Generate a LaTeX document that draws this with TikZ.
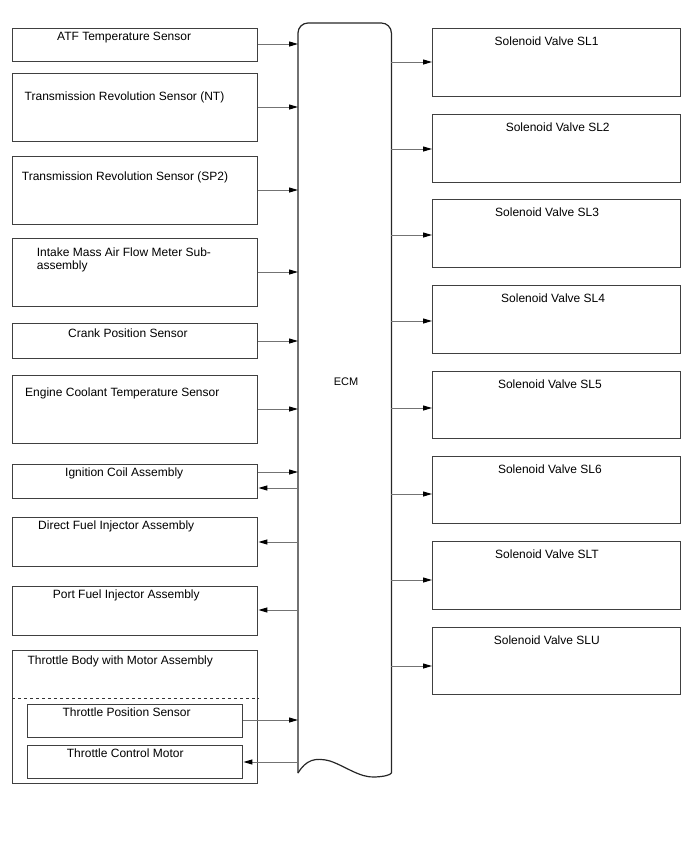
\documentclass[tikz,border=0pt]{standalone}
\usepackage{fontspec}
\setmainfont{Liberation Sans}
\usetikzlibrary{arrows.meta}
\begin{document}
\begin{tikzpicture}[x=1pt,y=-1pt,
  box/.style={draw=black!75,line width=1.4pt,inner sep=0,anchor=north west},
  lbl/.style={anchor=base west,inner sep=0,font=\fontsize{12}{13.5}\selectfont,align=left},
  rlbl/.style={anchor=base west,inner sep=0,font=\fontsize{12}{14}\selectfont},
  conn/.style={draw=black!55,line width=1pt,-{Triangle[length=9pt,width=5pt,color=black]}}]
\useasboundingbox (0,0) rectangle (688,852);
% left boxes
\node[box,minimum width=245,minimum height=33] (atf) at (12,28) {};
\node[box,minimum width=245,minimum height=68] (nt) at (12,73) {};
\node[box,minimum width=245,minimum height=68] (sp2) at (12,156) {};
\node[box,minimum width=245,minimum height=68] (maf) at (12,238) {};
\node[box,minimum width=245,minimum height=35] (crank) at (12,323) {};
\node[box,minimum width=245,minimum height=68] (ect) at (12,375) {};
\node[box,minimum width=245,minimum height=34] (ign) at (12,464) {};
\node[box,minimum width=245,minimum height=49] (dfi) at (12,517) {};
\node[box,minimum width=245,minimum height=49] (pfi) at (12,586) {};
\node[box,minimum width=245,minimum height=133] (tb) at (12,650) {};
\node[box,minimum width=215,minimum height=33] (tps) at (27,704) {};
\node[box,minimum width=215,minimum height=33] (tcm) at (27,745) {};
\draw[black!80,line width=1pt,dashed] (tb.west |- 0,698) coordinate (d1) -- (tb.east |- 0,698) coordinate (d2);
% labels left
\node[lbl] (tatf) at (57,40) {ATF Temperature Sensor};
\node[lbl] (tnt) at (24.5,100.7) {Transmission Revolution Sensor (NT)};
\node[lbl] (tsp2) at (21.7,180) {Transmission Revolution Sensor (SP2)};
\node[lbl] (tmaf) at (36.7,269.5) {Intake Mass Air Flow Meter Sub-\\assembly};
\node[lbl] (tcrank) at (68,337) {Crank Position Sensor};
\node[lbl] (tect) at (25,396) {Engine Coolant Temperature Sensor};
\node[lbl] (tign) at (65,476.5) {Ignition Coil Assembly};
\node[lbl] (tdfi) at (38,529) {Direct Fuel Injector Assembly};
\node[lbl] (tpfi) at (52.7,598.5) {Port Fuel Injector Assembly};
\node[lbl] (ttb) at (27.3,664) {Throttle Body with Motor Assembly};
\node[lbl] (ttps) at (62.3,716) {Throttle Position Sensor};
\node[lbl] (ttcm) at (66.7,757) {Throttle Control Motor};
% ECM
\node[inner sep=0,minimum width=93,minimum height=750,anchor=north west] (ecm) at (298,23) {};
\draw[black!85,line width=1.2pt,rounded corners=10pt]
  (ecm.west |- 0,773) -- (ecm.north west) -- (ecm.north east) -- (ecm.east |- 0,773);
\draw[black!85,line width=1.2pt]
  (ecm.west |- 0,773) .. controls (306,760) and (315,757) .. (330,761)
  .. controls (345,766) and (360,778) .. (375,777)
  .. controls (385,776.5) and (390,775) .. (ecm.east |- 0,773);
\node[anchor=base,inner sep=0,font=\fontsize{11}{12}\selectfont] (tecm) at (346,385.7) {ECM};
% right boxes
\node[box,minimum width=248,minimum height=68] (sl1) at (432,28) {};
\node[box,minimum width=248,minimum height=68] (sl2) at (432,114) {};
\node[box,minimum width=248,minimum height=68] (sl3) at (432,199) {};
\node[box,minimum width=248,minimum height=68] (sl4) at (432,285) {};
\node[box,minimum width=248,minimum height=67] (sl5) at (432,371) {};
\node[box,minimum width=248,minimum height=67] (sl6) at (432,456) {};
\node[box,minimum width=248,minimum height=68] (slt) at (432,541) {};
\node[box,minimum width=248,minimum height=67] (slu) at (432,627) {};
\node[rlbl] (tsl1) at (494.5,45.4) {Solenoid Valve SL1};
\node[rlbl] (tsl2) at (505.6,131.4) {Solenoid Valve SL2};
\node[rlbl] (tsl3) at (495,216.4) {Solenoid Valve SL3};
\node[rlbl] (tsl4) at (501,302.4) {Solenoid Valve SL4};
\node[rlbl] (tsl5) at (497.8,388.4) {Solenoid Valve SL5};
\node[rlbl] (tsl6) at (497.8,473.4) {Solenoid Valve SL6};
\node[rlbl] (tslt) at (495,558.4) {Solenoid Valve SLT};
\node[rlbl] (tslu) at (493.7,644.4) {Solenoid Valve SLU};
% connectors in
\draw[conn] (atf.east |- 0,44) -- (ecm.west |- 0,44);
\draw[conn] (nt.east |- 0,107) -- (ecm.west |- 0,107);
\draw[conn] (sp2.east |- 0,190) -- (ecm.west |- 0,190);
\draw[conn] (maf.east |- 0,272) -- (ecm.west |- 0,272);
\draw[conn] (crank.east |- 0,341) -- (ecm.west |- 0,341);
\draw[conn] (ect.east |- 0,409) -- (ecm.west |- 0,409);
\draw[conn] (ign.east |- 0,472) -- (ecm.west |- 0,472);
\draw[conn] (ecm.west |- 0,488) -- (ign.east |- 0,488);
\draw[conn] (ecm.west |- 0,542) -- (dfi.east |- 0,542);
\draw[conn] (ecm.west |- 0,610) -- (pfi.east |- 0,610);
\draw[conn] (tps.east |- 0,720) -- (ecm.west |- 0,720);
\draw[conn] (ecm.west |- 0,762) -- (tcm.east |- 0,762);
% connectors out
\draw[conn] (ecm.east |- 0,62) -- (sl1.west |- 0,62);
\draw[conn] (ecm.east |- 0,149) -- (sl2.west |- 0,149);
\draw[conn] (ecm.east |- 0,235) -- (sl3.west |- 0,235);
\draw[conn] (ecm.east |- 0,321) -- (sl4.west |- 0,321);
\draw[conn] (ecm.east |- 0,408) -- (sl5.west |- 0,408);
\draw[conn] (ecm.east |- 0,494) -- (sl6.west |- 0,494);
\draw[conn] (ecm.east |- 0,580) -- (slt.west |- 0,580);
\draw[conn] (ecm.east |- 0,666) -- (slu.west |- 0,666);
\end{tikzpicture}
\end{document}
